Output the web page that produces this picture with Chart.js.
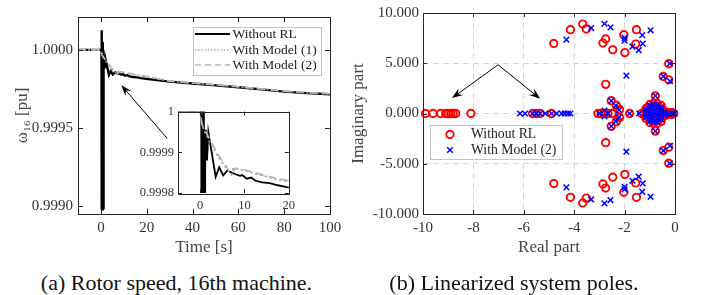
<!DOCTYPE html>
<html>
<head>
<meta charset="utf-8">
<script src="https://cdn.jsdelivr.net/npm/chart.js@4.4.1/dist/chart.umd.min.js"></script>
<style>
  body { margin: 0; background: #fff; width: 701px; height: 295px; position: relative; overflow: hidden; }
  canvas { position: absolute; }
  #speedChart { left: 0; top: 0; }
  #insetChart { left: 130px; top: 100px; }
  #poleChart { left: 340px; top: 0; }
  .caption { position: absolute; top: 270px; font-family: 'Liberation Serif', serif; font-size: 22px; color: #111; white-space: nowrap; text-align: center; }
</style>
</head>
<body>
<canvas id="speedChart" width="350" height="262"></canvas>
<canvas id="insetChart" width="170" height="120"></canvas>
<canvas id="poleChart" width="361" height="262"></canvas>
<div class="caption" style="left:0;width:353px">(a) Rotor speed, 16th machine.</div>
<div class="caption" style="left:314px;width:400px">(b) Linearized system poles.</div>
<script>
// (a) rotor speed of machine 16
const timeNoRl = [-10, 0, 0.25, 0.3, 0.4, 0.5, 0.8, 0.85, 0.95, 1.05, 1.15, 1.3, 1.55, 1.85, 2.6, 3.5, 4.3, 5.2, 6.2, 7.1, 8.0,
  9.0, 9.5, 10.5, 11.5, 12.5, 14, 15.7, 17.5, 19.8, 30, 40, 50, 60, 70, 80, 90, 100];
const speedNoRl = [1.0, 1.0, 1.0, 0.99898, 1.000125, 0.99898, 1.00005, 0.99898, 0.99995, 0.99898, 0.9999, 0.999955, 0.99988,
  0.99995, 0.9999, 0.99984, 0.999863, 0.999843, 0.999856, 0.99985, 0.999846, 0.999842, 0.999844, 0.999835, 0.999838,
  0.99983, 0.999826, 0.999824, 0.999819, 0.999814, 0.999797, 0.999785, 0.999773, 0.999761, 0.999747, 0.999733, 0.999723,
  0.999716];

const timeModel1 = [-10, 0, 0.4, 0.75, 2, 4, 6, 7.1, 7.5, 10, 15, 20, 30, 40, 50, 60, 70, 80, 90, 100];
const speedModel1 = [1.0, 1.0, 0.99997, 0.999956, 0.99993, 0.99989, 0.99986, 0.999846, 0.999862, 0.999855, 0.99984,
  0.999827, 0.999799, 0.999787, 0.999775, 0.999763, 0.999749, 0.999735, 0.999725, 0.999718];

const timeModel2 = [-10, 0, 0.4, 0.75, 2, 4, 6.8, 7.4, 7.8, 10, 15, 20, 30, 40, 50, 60, 70, 80, 90, 100];
const speedModel2 = [1.0, 1.0, 0.99997, 0.99996, 0.999935, 0.999895, 0.99985, 0.999848, 0.99986, 0.999857, 0.999842,
  0.99983, 0.9998, 0.999788, 0.999776, 0.999764, 0.99975, 0.999736, 0.999726, 0.999719];

const timeTicks = [0, 20, 40, 60, 80, 100];
const speedTicks = [0.9990, 0.9995, 1.0000];
const insetTimeTicks = [0, 10, 20];
const insetSpeedTicks = [0.9998, 0.9999, 1];
const speedArrow = { from: [28.9, 0.999434], to: [8.9, 0.999774] };

// (b) poles [real, imaginary]
const polesNoRl = [
  [-9.9, 0], [-9.6, 0], [-9.3, 0], [-9.1, 0], [-9.0, 0], [-8.9, 0], [-8.8, 0], [-8.7, 0], [-8.1, 0],
  [-5.65, 0], [-5.5, 0], [-5.35, 0], [-4.9, 0],
  [-4.81, 6.97], [-4.81, -6.97], [-4.15, 8.34], [-4.15, -8.34], [-3.66, 8.9], [-3.66, -8.9],
  [-3.52, 8.42], [-3.52, -8.42], [-2.86, 7.01], [-2.86, -7.01], [-2.75, 7.42], [-2.75, -7.42],
  [-2.47, 6.34], [-2.47, -6.34], [-2.03, 7.84], [-2.03, -7.84], [-1.99, 6.06], [-1.99, -6.06],
  [-1.53, 8.34], [-1.53, -8.34], [-1.56, 6.91], [-1.56, -6.91], [-2.75, 2.9], [-2.75, -2.9],
  [-0.25, 4.95], [-0.25, -4.95], [-0.47, 3.69], [-0.47, -3.69], [-0.25, 3.35], [-0.25, -3.35],
  [-3.06, 0], [-2.93, 0], [-2.8, 0], [-2.66, 0], [-2.5, 0],
  [-2.53, 1.28], [-2.53, -1.28], [-2.33, 0.82], [-2.33, -0.82], [-2.2, 0.4], [-2.2, -0.4],
  [-1.8, 0], [-1.32, 0],
  [-1.15, 0.5], [-1.15, -0.5], [-1.15, 0.25], [-1.15, -0.25], [-1.15, 0],
  [-1.0, 0.9], [-1.0, -0.9], [-1.0, 0.6], [-1.0, -0.6], [-1.0, 0.3], [-1.0, -0.3], [-1.0, 0],
  [-0.85, 1.0], [-0.85, -1.0], [-0.85, 0.65], [-0.85, -0.65], [-0.85, 0.3], [-0.85, -0.3], [-0.85, 0],
  [-0.7, 1.0], [-0.7, -1.0], [-0.7, 0.65], [-0.7, -0.65], [-0.7, 0.3], [-0.7, -0.3], [-0.7, 0],
  [-0.55, 0.8], [-0.55, -0.8], [-0.55, 0.45], [-0.55, -0.45], [-0.55, 0.15], [-0.55, -0.15],
  [-0.45, 0.3], [-0.45, -0.3], [-0.4, 0], [-0.3, 0.12], [-0.3, -0.12], [-0.22, 0],
  [-0.12, 0.1], [-0.12, -0.1], [-0.05, 0],
  [-0.78, 1.75], [-0.78, -1.75]
];
const polesModel2 = [
  [-6.15, 0], [-5.95, 0], [-5.65, 0], [-5.5, 0], [-5.35, 0], [-5.15, 0], [-4.9, 0], [-4.7, 0],
  [-4.5, 0], [-4.38, 0], [-4.25, 0], [-4.15, 0],
  [-4.31, 7.35], [-4.31, -7.35], [-3.33, 8.5], [-3.33, -8.55], [-2.8, 8.93], [-2.8, -8.94],
  [-2.56, 8.57], [-2.56, -8.61], [-2.0, 7.52], [-2.0, -7.55], [-2.0, 7.26], [-2.0, -7.29],
  [-1.69, 6.65], [-1.69, -6.69], [-1.44, 6.3], [-1.44, -6.29], [-1.28, 6.95], [-1.28, -6.95],
  [-1.3, 7.8], [-1.3, -7.79], [-0.97, 8.28], [-0.97, -8.29], [-1.93, 3.77], [-1.93, -3.8],
  [-0.21, 4.96], [-0.21, -4.96], [-0.2, 3.22], [-0.2, -3.22], [-0.46, 3.7], [-0.46, -3.7],
  [-3.0, 0], [-2.8, 0.3], [-2.8, -0.3], [-2.65, 0], [-2.53, 1.26], [-2.53, -1.26],
  [-2.35, 0.78], [-2.35, -0.78], [-2.22, 0.35], [-2.22, -0.35],
  [-1.8, 0], [-1.42, 0],
  [-1.15, 0.38], [-1.15, -0.38], [-1.15, 0.12], [-1.15, -0.12],
  [-1.0, 0.78], [-1.0, -0.78], [-1.0, 0.45], [-1.0, -0.45], [-1.0, 0.15], [-1.0, -0.15],
  [-0.85, 0.85], [-0.85, -0.85], [-0.85, 0.5], [-0.85, -0.5], [-0.85, 0.15], [-0.85, -0.15],
  [-0.7, 0.85], [-0.7, -0.85], [-0.7, 0.5], [-0.7, -0.5], [-0.7, 0.15], [-0.7, -0.15],
  [-0.55, 0.6], [-0.55, -0.6], [-0.55, 0.3], [-0.55, -0.3], [-0.55, 0],
  [-0.4, 0.15], [-0.4, -0.15], [-0.3, 0], [-0.2, 0], [-0.1, 0], [-0.02, 0],
  [-0.78, 1.75], [-0.78, -1.75]
];
const realTicks = [-10, -8, -6, -4, -2, 0];
const imagTicks = [-10, -5, 0, 5, 10];
const poleArrows = [
  { from: [-7.02, 4.85], to: [-8.85, 1.53] },
  { from: [-7.02, 4.85], to: [-5.35, 1.46] }
];

const FONT = "'Liberation Serif', 'DejaVu Serif', serif";
Chart.defaults.font.family = FONT;
Chart.defaults.color = '#333';
Chart.defaults.animation = false;
Chart.defaults.responsive = false;
Chart.defaults.plugins.legend.display = false;
Chart.defaults.plugins.tooltip.enabled = false;

const xy = (ts, vs) => ts.map((t, i) => ({ x: t, y: vs[i] }));
const setTicks = list => s => { s.ticks = list.map(v => ({ value: v })); };

// box around the axes with inward tick marks
const frame = {
  id: 'frame',
  beforeDraw(chart, args, o) {
    if (!o.fill) return;
    const a = chart.chartArea;
    chart.ctx.save();
    chart.ctx.fillStyle = o.fill;
    chart.ctx.fillRect(a.left, a.top, a.right - a.left, a.bottom - a.top);
    chart.ctx.restore();
  },
  afterDatasetsDraw(chart, args, o) {
    const { ctx, chartArea: a, scales } = chart;
    const L = o.tick || 4;
    ctx.save();
    ctx.strokeStyle = '#262626';
    ctx.lineWidth = 1;
    ctx.beginPath();
    scales.x.ticks.forEach(t => {
      const px = Math.round(scales.x.getPixelForValue(t.value)) + 0.5;
      ctx.moveTo(px, a.bottom); ctx.lineTo(px, a.bottom - L);
      ctx.moveTo(px, a.top); ctx.lineTo(px, a.top + L);
    });
    scales.y.ticks.forEach(t => {
      const py = Math.round(scales.y.getPixelForValue(t.value)) + 0.5;
      ctx.moveTo(a.left, py); ctx.lineTo(a.left + L, py);
      ctx.moveTo(a.right, py); ctx.lineTo(a.right - L, py);
    });
    ctx.stroke();
    ctx.strokeRect(Math.round(a.left) + 0.5, Math.round(a.top) + 0.5,
      Math.round(a.right - a.left), Math.round(a.bottom - a.top));
    ctx.restore();
  }
};

const arrows = {
  id: 'arrows',
  afterDatasetsDraw(chart, args, o) {
    const { ctx, scales } = chart;
    (o.list || []).forEach(ar => {
      const x0 = scales.x.getPixelForValue(ar.from[0]), y0 = scales.y.getPixelForValue(ar.from[1]);
      const x1 = scales.x.getPixelForValue(ar.to[0]), y1 = scales.y.getPixelForValue(ar.to[1]);
      const ang = Math.atan2(y1 - y0, x1 - x0);
      const hl = o.head || 10, hw = o.halfWidth || 4;
      ctx.save();
      ctx.strokeStyle = '#000'; ctx.fillStyle = '#000'; ctx.lineWidth = 1;
      ctx.beginPath();
      ctx.moveTo(x0, y0);
      ctx.lineTo(x1 - Math.cos(ang) * hl * 0.6, y1 - Math.sin(ang) * hl * 0.6);
      ctx.stroke();
      ctx.translate(x1, y1);
      ctx.rotate(ang);
      ctx.beginPath();
      ctx.moveTo(0, 0);
      ctx.lineTo(-hl, -hw);
      ctx.lineTo(-hl * 0.65, 0);
      ctx.lineTo(-hl, hw);
      ctx.closePath();
      ctx.fill();
      ctx.restore();
    });
  }
};

const boxLegend = {
  id: 'boxLegend',
  afterDraw(chart, args, o) {
    if (!o.box) return;
    const ctx = chart.ctx;
    const [bx, by, bw, bh] = o.box;
    ctx.save();
    ctx.fillStyle = '#fff';
    ctx.fillRect(bx, by, bw, bh);
    ctx.strokeStyle = '#c4c4c4';
    ctx.lineWidth = 1;
    ctx.strokeRect(bx + 0.5, by + 0.5, bw, bh);
    ctx.font = (o.size || 14) + 'px ' + FONT;
    ctx.textBaseline = 'middle';
    chart.data.datasets.forEach((ds, i) => {
      const y = o.rows[i];
      ctx.save();
      ctx.strokeStyle = ds.legendColor || ds.borderColor;
      ctx.lineWidth = ds.legendWidth || ds.borderWidth;
      if (ds.showLine === false) {
        const r = ds.pointRadius;
        ctx.beginPath();
        if (ds.pointStyle === 'crossRot') {
          const d = r * Math.SQRT1_2;
          ctx.moveTo(o.markerX - d, y - d); ctx.lineTo(o.markerX + d, y + d);
          ctx.moveTo(o.markerX - d, y + d); ctx.lineTo(o.markerX + d, y - d);
        } else {
          ctx.arc(o.markerX, y, r, 0, Math.PI * 2);
        }
        ctx.strokeStyle = ds.borderColor;
        ctx.lineWidth = ds.borderWidth;
        ctx.stroke();
      } else {
        ctx.setLineDash(ds.legendDash || ds.borderDash || []);
        ctx.beginPath();
        ctx.moveTo(o.lineX[0], y); ctx.lineTo(o.lineX[1], y);
        ctx.stroke();
      }
      ctx.restore();
      ctx.fillStyle = '#222';
      ctx.fillText(ds.label, o.textX, y);
    });
    ctx.restore();
  }
};

const tickFont = { size: 15 };
const titleFont = { size: 17 };

function speedDatasets(wBlack, wGray) {
  return [
    { label: 'Without RL', data: xy(timeNoRl, speedNoRl), borderColor: '#000', borderWidth: wBlack,
      pointRadius: 0, tension: 0, order: 2, legendWidth: 2 },
    { label: 'With Model (1)', data: xy(timeModel1, speedModel1), borderColor: '#9a9a9a', borderWidth: wGray,
      borderDash: [2, 3], pointRadius: 0, tension: 0, order: 1, legendWidth: 1.5, legendDash: [1.2, 2] },
    { label: 'With Model (2)', data: xy(timeModel2, speedModel2), borderColor: '#b8b8b8', borderWidth: wGray,
      borderDash: [8, 5], pointRadius: 0, tension: 0, order: 0, legendWidth: 1.5, legendDash: [6, 4] }
  ];
}

new Chart(document.getElementById('speedChart'), {
  type: 'line',
  data: { datasets: speedDatasets(2.4, 1.7) },
  options: {
    layout: { padding: { left: 0, top: 17, right: 20, bottom: 0 } },
    scales: {
      x: {
        type: 'linear', min: -10, max: 100,
        afterBuildTicks: setTicks(timeTicks),
        afterFit: s => { s.height = 48; },
        grid: { display: false, drawTicks: false }, border: { display: false },
        ticks: { font: tickFont, padding: 5, maxRotation: 0, autoSkip: false },
        title: { display: true, text: 'Time [s]', font: titleFont, color: '#444', padding: { top: 0, bottom: 4 } }
      },
      y: {
        min: 0.99895, max: 1.00021,
        afterBuildTicks: setTicks(speedTicks),
        afterFit: s => { s.width = 78; },
        grid: { display: false, drawTicks: false }, border: { display: false },
        ticks: { font: tickFont, padding: 5, autoSkip: false, callback: v => v.toFixed(4) },
        title: { display: true, text: 'ω₁₆ [pu]', font: titleFont, color: '#444', padding: { top: 12, bottom: 0 } }
      }
    },
    plugins: {
      frame: { tick: 5 },
      arrows: { list: [speedArrow], head: 11, halfWidth: 4 },
      boxLegend: { box: [193, 27, 128, 48], rows: [34, 50, 65], lineX: [195, 230], textX: 232.5, size: 13.5 }
    }
  },
  plugins: [frame, arrows, boxLegend]
});

new Chart(document.getElementById('insetChart'), {
  type: 'line',
  data: { datasets: speedDatasets(1.8, 1.8) },
  options: {
    layout: { padding: { left: 0, top: 10, right: 11, bottom: 0 } },
    scales: {
      x: {
        type: 'linear', min: -5, max: 20,
        afterBuildTicks: setTicks(insetTimeTicks),
        afterFit: s => { s.height = 27; },
        grid: { display: false, drawTicks: false }, border: { display: false },
        ticks: { font: { size: 12.5 }, padding: 5, maxRotation: 0, autoSkip: false }
      },
      y: {
        min: 0.9998, max: 1,
        afterBuildTicks: setTicks(insetSpeedTicks),
        afterFit: s => { s.width = 48; },
        grid: { display: false, drawTicks: false }, border: { display: false },
        ticks: { font: { size: 12.5 }, padding: 4, autoSkip: false, callback: v => (v === 1 ? '1' : v.toFixed(4)) }
      }
    },
    plugins: { frame: { tick: 4, fill: '#fff' } }
  },
  plugins: [frame]
});

const toPoints = list => list.map(p => ({ x: p[0], y: p[1] }));

new Chart(document.getElementById('poleChart'), {
  type: 'scatter',
  data: {
    datasets: [
      { label: 'Without RL', data: toPoints(polesNoRl), showLine: false, pointStyle: 'circle',
        pointRadius: 3.7, borderWidth: 1.9, borderColor: '#ff0000', backgroundColor: 'rgba(0,0,0,0)',
        clip: false, order: 1 },
      { label: 'With Model (2)', data: toPoints(polesModel2), showLine: false, pointStyle: 'crossRot',
        pointRadius: 4, borderWidth: 1.5, borderColor: '#0000ff', backgroundColor: '#0000ff',
        clip: false, order: 0 }
    ]
  },
  options: {
    layout: { padding: { left: 0, top: 13, right: 26, bottom: 0 } },
    scales: {
      x: {
        type: 'linear', min: -10, max: 0,
        afterBuildTicks: setTicks(realTicks),
        afterFit: s => { s.height = 48; },
        grid: { display: true, drawTicks: false, color: '#d6d6d6' }, border: { display: false, dash: [6, 4] },
        ticks: { font: tickFont, padding: 5, maxRotation: 0, autoSkip: false },
        title: { display: true, text: 'Real part', font: titleFont, color: '#444', padding: { top: 0, bottom: 4 } }
      },
      y: {
        min: -10, max: 10,
        afterBuildTicks: setTicks(imagTicks),
        afterFit: s => { s.width = 83; },
        grid: { display: true, drawTicks: false, color: '#d6d6d6' }, border: { display: false, dash: [6, 4] },
        ticks: { font: tickFont, padding: 4, autoSkip: false, callback: v => v.toFixed(3) },
        title: { display: true, text: 'Imaginary part', font: titleFont, color: '#444', padding: { top: 8, bottom: 0 } }
      }
    },
    plugins: {
      frame: { tick: 4 },
      arrows: { list: poleArrows, head: 11, halfWidth: 4 },
      boxLegend: { box: [90, 125, 132, 34], rows: [134.5, 150], markerX: 110, textX: 131, size: 13.7 }
    }
  },
  plugins: [frame, arrows, boxLegend]
});
</script>
</body>
</html>
